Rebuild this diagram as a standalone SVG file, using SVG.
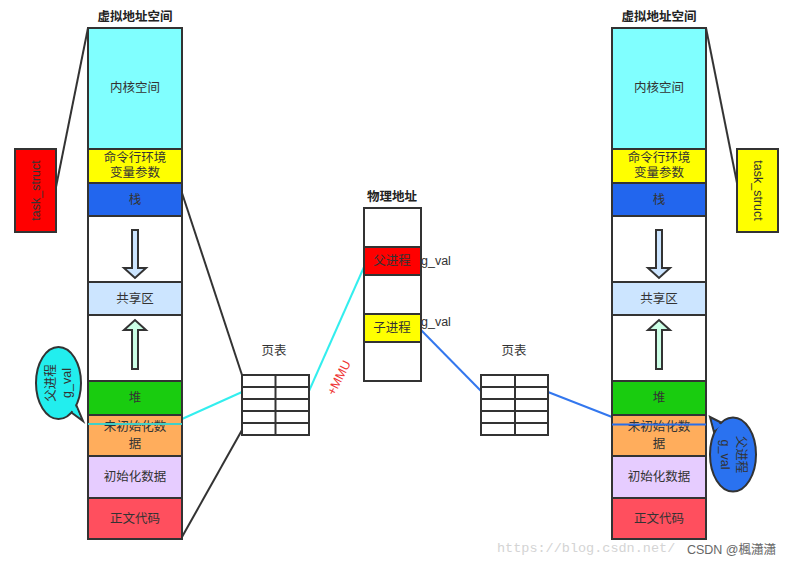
<svg xmlns="http://www.w3.org/2000/svg" width="791" height="562" viewBox="0 0 791 562">
<style>
text{font-family:"Liberation Sans","Noto Sans CJK SC",sans-serif;font-size:12.5px;fill:#333;text-anchor:middle}
.t{font-weight:bold;fill:#222}
.b{stroke:#333;stroke-width:2}
.ln{fill:none;stroke-width:2}
.pt line{stroke:#333;stroke-width:2}
.lbl{text-anchor:start}
</style>
<rect width="791" height="562" fill="#fff"/>

<g id="connectors">
  <line class="ln" x1="56" y1="187" x2="88" y2="28" stroke="#333"/>
  <line class="ln" x1="706" y1="28" x2="738" y2="188" stroke="#333"/>
  <line class="ln" x1="182" y1="193" x2="242" y2="375" stroke="#333"/>
  <line class="ln" x1="182" y1="537" x2="242" y2="430" stroke="#333"/>
  <line class="ln" x1="182" y1="419" x2="242" y2="392" stroke="#33eeee"/>
  <line class="ln" x1="309" y1="391" x2="364" y2="267" stroke="#33eeee"/>
  <line class="ln" x1="421" y1="330" x2="481" y2="391" stroke="#3377ee"/>
  <line class="ln" x1="548" y1="392" x2="612" y2="417" stroke="#3377ee"/>
</g>

<g id="left-title"><text class="t" x="135" y="21">虚拟地址空间</text></g>
<g id="left-vas">
  <rect class="b" x="88" y="28" width="94" height="121" fill="#80ffff"/>
  <text x="135" y="92">内核空间</text>
  <rect class="b" x="88" y="149" width="94" height="34" fill="#ffff00"/>
  <text x="135" y="162">命令行环境</text>
  <text x="135" y="177">变量参数</text>
  <rect class="b" x="88" y="183" width="94" height="33" fill="#2266ee"/>
  <text x="135" y="204">栈</text>
  <rect class="b" x="88" y="216" width="94" height="66" fill="#fff"/>
  <path class="b" d="M132,230 H138 V268 H146 L135,278 L124,268 H132 Z" fill="#cce5ff" stroke-width="1.5"/>
  <rect class="b" x="88" y="282" width="94" height="33" fill="#cce5ff"/>
  <text x="135" y="303">共享区</text>
  <rect class="b" x="88" y="315" width="94" height="66" fill="#fff"/>
  <path class="b" d="M132,369 H138 V330 H146 L135,320 L124,330 H132 Z" fill="#ccffe6" stroke-width="1.5"/>
  <rect class="b" x="88" y="381" width="94" height="34" fill="#19cc0f"/>
  <text x="135" y="402">堆</text>
  <rect class="b" x="88" y="415" width="94" height="41" fill="#ffad5c"/>
  <text x="135" y="431">未初始化数</text>
  <text x="135" y="448">据</text>
  <rect class="b" x="88" y="456" width="94" height="42" fill="#e6ccff"/>
  <text x="135" y="481">初始化数据</text>
  <rect class="b" x="88" y="498" width="94" height="41" fill="#ff4f5e"/>
  <text x="135" y="523">正文代码</text>
  <line x1="88" y1="424" x2="182" y2="424" stroke="#40d0c8" stroke-width="2"/>
</g>

<g id="left-task">
  <rect class="b" x="15" y="149" width="41" height="83" fill="#ff0000"/>
  <text transform="translate(36,190.5) rotate(-90)" y="4">task_struct</text>
</g>

<g id="left-callout">
  <path class="b" d="M68,410 L83,421 L75,402 Z" fill="#22eeee"/>
  <ellipse class="b" cx="58.5" cy="383" rx="22.5" ry="36" fill="#22eeee"/>
  <path d="M69.5,409 L80,417 L74.5,404 Z" fill="#22eeee"/>
  <g transform="translate(58.5,383) rotate(-90)">
    <text y="-4">父进程</text>
    <text y="12">g_val</text>
  </g>
</g>

<g id="left-pagetable" class="pt">
  <text x="274" y="355">页表</text>
  <rect x="242" y="375" width="67" height="60" fill="#fff" stroke="#333" stroke-width="2"/>
  <line x1="275.5" y1="375" x2="275.5" y2="435"/>
  <line x1="242" y1="387" x2="309" y2="387"/>
  <line x1="242" y1="399" x2="309" y2="399"/>
  <line x1="242" y1="411" x2="309" y2="411"/>
  <line x1="242" y1="423" x2="309" y2="423"/>
</g>

<g id="mmu-label"><text transform="translate(339,378) rotate(-63)" y="4" style="fill:#ee3333">+MMU</text></g>

<g id="phys">
  <text class="t" x="392" y="201">物理地址</text>
  <rect class="b" x="364" y="208" width="57" height="173" fill="#fff"/>
  <rect class="b" x="364" y="247" width="57" height="28" fill="#ff0000"/>
  <text x="392" y="265">父进程</text>
  <rect class="b" x="364" y="314" width="57" height="28" fill="#ffff00"/>
  <text x="392" y="332">子进程</text>
  <text class="lbl" x="421" y="265">g_val</text>
  <text class="lbl" x="421" y="326">g_val</text>
</g>

<g id="right-pagetable" class="pt">
  <text x="514" y="355">页表</text>
  <rect x="481" y="375" width="67" height="60" fill="#fff" stroke="#333" stroke-width="2"/>
  <line x1="515" y1="375" x2="515" y2="435"/>
  <line x1="481" y1="387" x2="548" y2="387"/>
  <line x1="481" y1="399" x2="548" y2="399"/>
  <line x1="481" y1="411" x2="548" y2="411"/>
  <line x1="481" y1="423" x2="548" y2="423"/>
</g>

<g id="right-title"><text class="t" x="659" y="21">虚拟地址空间</text></g>
<g id="right-vas">
  <rect class="b" x="612" y="28" width="94" height="121" fill="#80ffff"/>
  <text x="659" y="92">内核空间</text>
  <rect class="b" x="612" y="149" width="94" height="34" fill="#ffff00"/>
  <text x="659" y="162">命令行环境</text>
  <text x="659" y="177">变量参数</text>
  <rect class="b" x="612" y="183" width="94" height="33" fill="#2266ee"/>
  <text x="659" y="204">栈</text>
  <rect class="b" x="612" y="216" width="94" height="66" fill="#fff"/>
  <path class="b" d="M656,230 H662 V268 H670 L659,278 L648,268 H656 Z" fill="#cce5ff" stroke-width="1.5"/>
  <rect class="b" x="612" y="282" width="94" height="33" fill="#cce5ff"/>
  <text x="659" y="303">共享区</text>
  <rect class="b" x="612" y="315" width="94" height="66" fill="#fff"/>
  <path class="b" d="M656,369 H662 V330 H670 L659,320 L648,330 H656 Z" fill="#ccffe6" stroke-width="1.5"/>
  <rect class="b" x="612" y="381" width="94" height="34" fill="#19cc0f"/>
  <text x="659" y="402">堆</text>
  <rect class="b" x="612" y="415" width="94" height="41" fill="#ffad5c"/>
  <text x="659" y="431">未初始化数</text>
  <text x="659" y="448">据</text>
  <rect class="b" x="612" y="456" width="94" height="42" fill="#e6ccff"/>
  <text x="659" y="481">初始化数据</text>
  <rect class="b" x="612" y="498" width="94" height="41" fill="#ff4f5e"/>
  <text x="659" y="523">正文代码</text>
  <line x1="612" y1="424.5" x2="706" y2="424.5" stroke="#2a6ee8" stroke-width="2"/>
</g>

<g id="right-task">
  <rect class="b" x="737" y="149" width="41" height="83" fill="#ffff00"/>
  <text transform="translate(757.5,190.5) rotate(90)" y="4">task_struct</text>
</g>

<g id="right-callout">
  <path class="b" d="M714,432 L710,417 L724,424 Z" fill="#2a72f0"/>
  <ellipse class="b" cx="733" cy="454.5" rx="23" ry="37" fill="#2a72f0"/>
  <path d="M715,430 L712,420 L722,425 Z" fill="#2a72f0"/>
  <g transform="translate(733,454.5) rotate(90)">
    <text y="-4">父进程</text>
    <text y="12">g_val</text>
  </g>
</g>

<g id="watermark">
  <text x="497" y="552" style="font-family:'Liberation Mono',monospace;font-size:13.5px;fill:#d4d4d4;text-anchor:start">https://blog.csdn.net/</text>
  <text x="776" y="554" style="font-size:12.5px;fill:#666;text-anchor:end">CSDN @楓瀟瀟</text>
</g>
</svg>
